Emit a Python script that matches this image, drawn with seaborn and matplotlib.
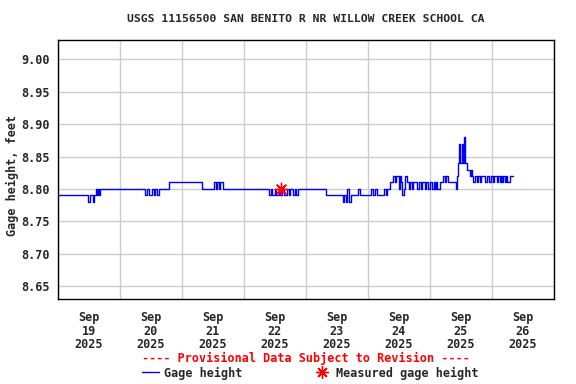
import numpy as np
import pandas as pd
import seaborn as sns
import matplotlib
matplotlib.use("Agg")
import matplotlib.pyplot as plt
import matplotlib.dates as mdates
from matplotlib.lines import Line2D

# gage height record, as change points (hours after 2025-09-19 00:00, feet)
gage_hours = [0, 11.6, 12.4, 13.5, 14.1, 14.7, 15.1, 15.5, 15.9, 16.3,
              33.7, 34.5, 35.2, 36.4, 37.2, 37.7, 38.3, 39.1, 42.8, 55.7,
              60.4, 61.2, 61.7, 62.3, 62.9, 63.7, 81.7, 82.5, 82.9, 84.1,
              84.5, 85.5, 85.9, 86.9, 87.3, 88.8, 89.4, 89.8, 91.0, 91.8,
              92.3, 92.9, 103.8, 110.2, 110.8, 111.3, 111.7, 111.9, 112.7, 112.8,
              113.4, 116.1, 116.9, 121.2, 121.9, 122.7, 123.5, 126.2, 127.0, 127.4,
              128.5, 129.7, 130.5, 130.9, 131.9, 132.3, 132.8, 133.2, 134.0, 134.4,
              135.1, 135.9, 136.2, 137.0, 137.4, 139.0, 139.8, 140.5, 140.9, 142.1,
              142.5, 143.2, 144.0, 144.7, 145.5, 145.9, 146.3, 146.7, 147.9, 149.0,
              149.8, 150.2, 150.8, 153.9, 154.5, 154.9, 155.1, 155.8, 156.4, 156.8,
              157.2, 157.6, 158.4, 159.5, 159.9, 160.3, 160.7, 161.4, 162.2, 162.6,
              163.4, 163.8, 165.3, 166.1, 166.9, 167.7, 168.4, 168.8, 170.0, 170.4,
              171.1, 171.5, 171.9, 172.3, 173.0, 173.4, 173.8, 175.0, 176.2]
gage_ft = [8.79, 8.78, 8.79, 8.78, 8.79, 8.80, 8.79, 8.80, 8.79, 8.80,
           8.79, 8.80, 8.79, 8.80, 8.79, 8.80, 8.79, 8.80, 8.81, 8.80,
           8.81, 8.80, 8.81, 8.80, 8.81, 8.80, 8.79, 8.80, 8.79, 8.80,
           8.79, 8.80, 8.79, 8.80, 8.79, 8.80, 8.79, 8.80, 8.79, 8.80,
           8.79, 8.80, 8.79, 8.78, 8.79, 8.78, 8.79, 8.80, 8.79, 8.78,
           8.79, 8.80, 8.79, 8.80, 8.79, 8.80, 8.79, 8.80, 8.79, 8.80,
           8.81, 8.82, 8.81, 8.82, 8.80, 8.82, 8.81, 8.79, 8.80, 8.82,
           8.81, 8.80, 8.81, 8.80, 8.81, 8.80, 8.81, 8.80, 8.81, 8.80,
           8.81, 8.80, 8.81, 8.80, 8.81, 8.80, 8.81, 8.80, 8.81, 8.82,
           8.81, 8.82, 8.81, 8.80, 8.82, 8.84, 8.87, 8.84, 8.87, 8.84,
           8.88, 8.84, 8.83, 8.82, 8.83, 8.82, 8.81, 8.82, 8.81, 8.82,
           8.81, 8.82, 8.81, 8.82, 8.81, 8.82, 8.81, 8.82, 8.81, 8.82,
           8.81, 8.82, 8.81, 8.82, 8.81, 8.82, 8.81, 8.82, 8.82]

# field measurement
meas_hours = [86.3]
meas_ft = [8.80]

start = pd.Timestamp("2025-09-19 00:00")
gage = pd.DataFrame({"time": start + pd.to_timedelta(gage_hours, unit="h"), "ft": gage_ft})
meas = pd.DataFrame({"time": start + pd.to_timedelta(meas_hours, unit="h"), "ft": meas_ft})

sns.set_style("white")
plt.rcParams["font.family"] = ["DejaVu Sans Mono"]
plt.rcParams["font.weight"] = "bold"
fs = 8.5

fig = plt.figure(figsize=(5.76, 3.84), dpi=100)
ax = fig.add_axes([58 / 576, 1 - 299 / 384, 496 / 576, 259 / 384])

sns.lineplot(data=gage, x="time", y="ft", ax=ax, color="#0000ff", linewidth=1,
             drawstyle="steps-post", estimator=None, errorbar=None)
sns.scatterplot(data=meas, x="time", y="ft", ax=ax, marker=(8, 2, 0), s=80,
                color="red", linewidth=1, zorder=5)

ax.set_xlim(start, start + pd.Timedelta(days=8))
ax.set_ylim(8.63, 9.03)
ax.set_yticks([8.65, 8.70, 8.75, 8.80, 8.85, 8.90, 8.95, 9.00])
ax.yaxis.set_major_formatter(matplotlib.ticker.FormatStrFormatter("%.2f"))

ax.xaxis.set_major_locator(mdates.DayLocator())
ax.xaxis.set_major_formatter(matplotlib.ticker.NullFormatter())
ax.xaxis.set_minor_locator(mdates.HourLocator(byhour=12))
ax.xaxis.set_minor_formatter(mdates.DateFormatter("%b\n%d\n%Y"))

ax.grid(True, which="major", color="#cccccc", linewidth=1)
ax.tick_params(axis="both", which="both", length=0, labelsize=fs)
ax.tick_params(axis="y", pad=6)
ax.tick_params(axis="x", which="minor", pad=9)
for lab in ax.get_xticklabels(minor=True):
    lab.set_linespacing(1.05)
for sp in ax.spines.values():
    sp.set_color("black")
    sp.set_linewidth(1)
ax.set_xlabel("")
ax.set_ylabel("")

fig.text(12 / 576, 1 - 175 / 384, "Gage height, feet", rotation=90,
         ha="center", va="center", fontsize=fs, fontweight="bold")
fig.text(306 / 576, 1 - 19 / 384, "USGS 11156500 SAN BENITO R NR WILLOW CREEK SCHOOL CA",
         ha="center", va="center", fontsize=8.2, fontweight="bold")
fig.text(306 / 576, 1 - 358 / 384, "---- Provisional Data Subject to Revision ----",
         ha="center", va="center", fontsize=fs, fontweight="bold", color="red")

handles = [Line2D([], [], color="#0000ff", linewidth=1),
           Line2D([], [], color="red", marker=(8, 2, 0), linestyle="none", markersize=9)]
fig.legend(handles, ["Gage height", "Measured gage height"], loc="center",
           bbox_to_anchor=(310 / 576, 1 - 373 / 384), ncol=2, frameon=False,
           fontsize=fs, handlelength=1.5, handletextpad=0.4, columnspacing=6.0,
           borderpad=0, borderaxespad=0)

fig.savefig("out.png", dpi=100)
